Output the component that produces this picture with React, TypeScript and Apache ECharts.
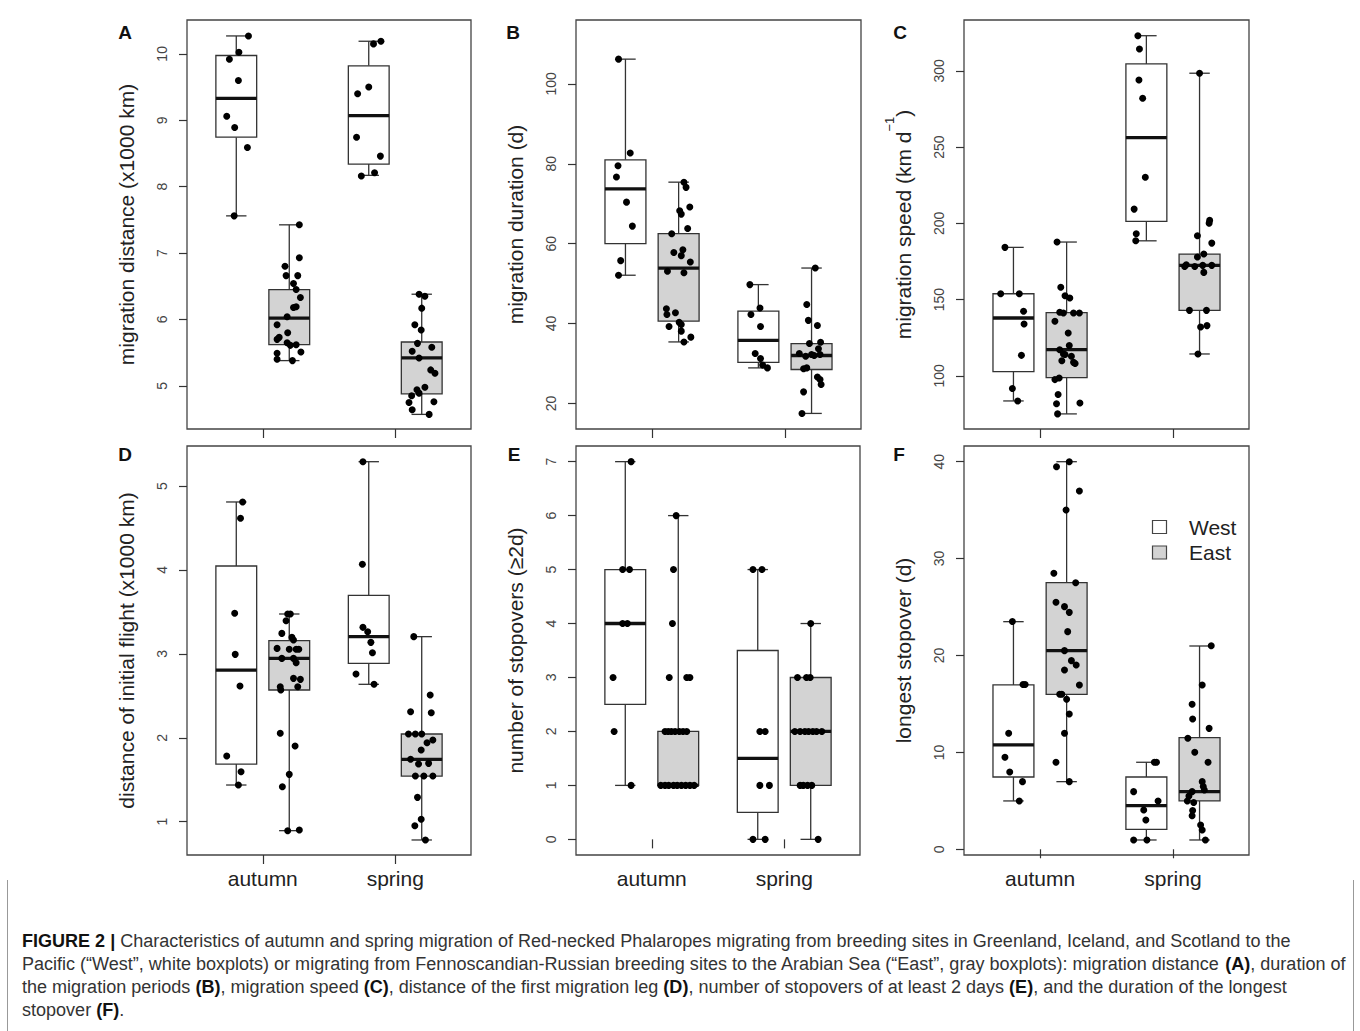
import React, { useEffect, useRef } from "react";
import * as echarts from "echarts";

const FONT = '"Liberation Sans", Arial, Helvetica, sans-serif';

// ---- x layout (categories) ----
const SEASONS = ["autumn", "spring"];
const SEASON_TICKS = [1.5, 4];
const GROUP_POS = [1, 2, 3.5, 4.5]; // West-autumn, East-autumn, West-spring, East-spring
const GROUP_ROUTE = [0, 1, 0, 1]; // 0 = West, 1 = East
const ROUTES = ["West", "East"];
const ROUTE_FILL = ["#ffffff", "#d3d3d3"];

// ---- Panel A: migration distance (x1000 km) ----
const A_TICKS = [5, 6, 7, 8, 9, 10];
const A_WA_BOX = [7.56, 8.745, 9.33, 9.975, 10.27];
const A_WA = [10.27, 10.025, 9.92, 9.6, 9.06, 8.89, 8.59, 7.56];
const A_WA_X = [0.23, 0.05, -0.13, 0.04, -0.18, -0.03, 0.21, -0.04];
const A_EA_BOX = [5.38, 5.62, 6.02, 6.45, 7.425];
const A_EA = [7.425, 6.93, 6.8, 6.66, 6.66, 6.54, 6.45, 6.33, 6.19, 6.18, 6.04, 5.92, 5.8, 5.73, 5.7, 5.65, 5.61, 5.62, 5.51, 5.49, 5.4, 5.38];
const A_EA_X = [0.19, 0.19, -0.08, -0.06, 0.16, 0.08, 0.13, 0.21, 0.13, 0.08, -0.04, -0.23, -0.03, -0.19, -0.23, -0.04, 0.02, 0.13, 0.22, -0.23, -0.23, 0.06];
const A_WS_BOX = [8.17, 8.34, 9.07, 9.82, 10.19];
const A_WS = [10.19, 10.15, 9.5, 9.4, 8.745, 8.46, 8.21, 8.16];
const A_WS_X = [0.23, 0.09, 0, -0.21, -0.23, 0.22, 0.11, -0.14];
const A_ES_BOX = [4.57, 4.88, 5.42, 5.66, 6.38];
const A_ES = [6.38, 6.35, 6.17, 5.92, 5.84, 5.64, 5.58, 5.52, 5.42, 5.24, 5.19, 4.98, 4.94, 4.89, 4.85, 4.76, 4.75, 4.64, 4.57];
const A_ES_X = [-0.05, 0.06, 0, -0.13, -0.01, -0.08, 0.19, -0.18, -0.05, 0.17, 0.25, 0.06, -0.09, -0.05, -0.19, 0.23, -0.24, -0.18, 0.14];

// ---- Panel B: migration duration (d) ----
const B_TICKS = [20, 40, 60, 80, 100];
const B_WA_BOX = [52.1, 60.0, 73.7, 81.0, 106.2];
const B_WA = [106.2, 82.7, 79.5, 76.7, 70.4, 64.4, 55.75, 52.1];
const B_WA_X = [-0.13, 0.09, -0.14, -0.17, 0.02, 0.13, -0.09, -0.13];
const B_EA_BOX = [35.4, 40.6, 53.9, 62.5, 75.4];
const B_EA = [75.4, 74.1, 69.2, 68.25, 67.4, 63.8, 62.5, 58.5, 57.8, 57.0, 55.4, 53.1, 52.7, 43.7, 42.7, 42.25, 40.3, 39.75, 39.25, 38.1, 36.6, 35.4];
const B_EA_X = [0.1, 0.14, 0.21, 0.02, 0.05, 0.17, -0.13, 0.08, -0.09, 0.05, 0.22, -0.21, 0.1, -0.23, -0.06, -0.22, 0.01, 0.05, -0.18, 0.05, 0.23, 0.1];
const B_WS_BOX = [28.9, 30.3, 35.8, 43.1, 49.75];
const B_WS = [49.75, 43.9, 42.25, 39.25, 32.5, 31.25, 29.6, 28.9];
const B_WS_X = [-0.16, 0.03, -0.14, 0.04, -0.06, 0.04, 0.08, 0.17];
const B_ES_BOX = [17.5, 28.5, 32.0, 35.0, 53.9];
const B_ES = [53.9, 44.75, 40.8, 39.5, 35.3, 35.0, 33.7, 32.5, 32.25, 32.25, 32.0, 31.8, 28.9, 28.7, 26.6, 26.0, 24.75, 22.9, 17.5];
const B_ES_X = [0.07, -0.09, -0.06, 0.11, 0.17, -0.04, 0.13, -0.23, 0.16, 0, 0.05, -0.11, -0.09, -0.15, 0.11, 0.16, 0.18, -0.15, -0.18];

// ---- Panel C: migration speed (km d-1) ----
const C_TICKS = [100, 150, 200, 250, 300];
const C_WA_BOX = [83.6, 102.8, 138.0, 153.9, 184.3];
const C_WA = [184.3, 153.9, 153.9, 142.4, 134.1, 113.5, 91.7, 83.6];
const C_WA_X = [-0.16, -0.24, 0.11, 0.19, 0.2, 0.15, -0.02, 0.08];
const C_EA_BOX = [75.1, 98.9, 117.2, 141.5, 187.8];
const C_EA = [187.8, 158.1, 152.6, 151.1, 141.7, 141.3, 141.3, 141.3, 135.8, 128.2, 119.9, 117.2, 114.4, 114.0, 112.9, 110.0, 108.9, 108.1, 98.7, 97.6, 87.8, 82.3, 81.7, 75.1];
const C_EA_X = [-0.18, -0.11, -0.03, 0.06, -0.13, -0.06, 0.13, 0.24, -0.22, 0.03, 0.05, -0.13, -0.06, -0.03, 0.09, -0.09, 0.13, 0.16, -0.14, -0.22, -0.16, 0.25, -0.19, -0.17];
const C_WS_BOX = [188.6, 201.3, 256.3, 304.6, 323.1];
const C_WS = [323.1, 314.4, 294.1, 282.1, 230.3, 209.4, 193.2, 188.6];
const C_WS_X = [-0.16, -0.13, -0.14, -0.07, -0.02, -0.23, -0.19, -0.2];
const C_ES_BOX = [114.4, 143.0, 172.5, 179.9, 298.5];
const C_ES = [298.5, 202.0, 200.2, 191.9, 187.1, 179.9, 178.0, 172.9, 171.8, 171.8, 172.5, 172.5, 167.9, 143.0, 143.0, 133.0, 132.1, 114.4];
const C_ES_X = [0, 0.19, 0.18, -0.04, 0.23, 0.08, -0.04, -0.25, -0.28, -0.09, 0.06, 0.23, 0.08, -0.19, 0.13, 0.14, 0.02, -0.03];

// ---- Panel D: distance of initial flight (x1000 km) ----
const D_TICKS = [1, 2, 3, 4, 5];
const D_WA_BOX = [1.437, 1.687, 2.807, 4.047, 4.81];
const D_WA = [4.81, 4.615, 3.483, 2.994, 2.617, 1.783, 1.596, 1.437];
const D_WA_X = [0.12, 0.08, -0.03, -0.02, 0.07, -0.18, 0.09, 0.04];
const D_EA_BOX = [0.893, 2.569, 2.946, 3.157, 3.475];
const D_EA = [3.475, 3.475, 3.395, 3.244, 3.197, 3.165, 3.065, 3.054, 3.054, 3.054, 2.946, 2.946, 2.894, 2.708, 2.696, 2.609, 2.609, 2.569, 2.053, 1.902, 1.564, 1.417, 0.893, 0.901];
const D_EA_X = [-0.03, 0.02, -0.06, -0.14, 0.05, 0.08, -0.23, 0, 0.13, 0.18, -0.14, 0.08, 0.13, 0.08, 0.21, -0.17, 0.16, -0.16, -0.17, 0.11, 0, -0.13, -0.03, 0.19];
const D_WS_BOX = [2.637, 2.887, 3.205, 3.697, 5.29];
const D_WS = [5.29, 4.067, 3.316, 3.264, 3.137, 3.014, 2.76, 2.637];
const D_WS_X = [-0.11, -0.12, -0.11, -0.02, 0.04, 0.07, -0.24, 0.1];
const D_ES_BOX = [0.782, 1.544, 1.743, 2.045, 3.205];
const D_ES = [3.205, 2.509, 2.311, 2.299, 2.045, 2.045, 2.045, 1.973, 1.941, 1.854, 1.743, 1.687, 1.695, 1.544, 1.544, 1.544, 1.29, 1.028, 0.952, 0.782];
const D_ES_X = [-0.15, 0.16, -0.21, 0.18, -0.25, -0.12, 0, 0.21, 0.1, -0.01, -0.21, -0.06, 0.13, -0.12, 0.04, 0.21, -0.08, -0.01, -0.13, 0.07];

// ---- Panel E: number of stopovers (>=2d) ----
const E_TICKS = [0, 1, 2, 3, 4, 5, 6, 7];
const E_WA_BOX = [1, 2.5, 4, 5, 7];
const E_WA = [7, 5, 5, 4, 4, 3, 2, 1];
const E_WA_X = [0.11, -0.05, 0.08, -0.05, 0.04, -0.23, -0.21, 0.11];
const E_EA_BOX = [1, 1, 1, 2, 6];
const E_EA = [6, 5, 4, 3, 3, 3, 2, 2, 2, 2, 2, 2, 2, 1, 1, 1, 1, 1, 1, 1, 1, 1];
const E_EA_X = [-0.04, -0.09, -0.11, -0.17, 0.16, 0.22, -0.25, -0.19, -0.13, -0.06, 0.02, 0.09, 0.16, -0.33, -0.25, -0.18, -0.09, -0.02, 0.06, 0.14, 0.22, 0.3];
const E_WS_BOX = [0, 0.5, 1.5, 3.5, 5];
const E_WS = [5, 5, 2, 2, 1, 1, 0, 0];
const E_WS_X = [-0.09, 0.08, 0.04, 0.14, 0.04, 0.22, -0.09, 0.14];
const E_ES_BOX = [0, 1, 2, 3, 4];
const E_ES = [4, 3, 3, 3, 2, 2, 2, 2, 2, 2, 2, 1, 1, 1, 1, 0];
const E_ES_X = [0, -0.25, -0.08, -0.01, -0.3, -0.2, -0.11, -0.04, 0.04, 0.11, 0.21, -0.2, -0.14, -0.06, 0.02, 0.14];

// ---- Panel F: longest stopover (d) ----
const F_TICKS = [0, 10, 20, 30, 40];
const F_WA_BOX = [4.99, 7.46, 10.77, 16.96, 23.49];
const F_WA = [23.5, 17.0, 17.0, 11.97, 9.49, 7.98, 6.98, 4.99];
const F_WA_X = [-0.02, 0.18, 0.22, -0.09, -0.16, -0.07, 0.17, 0.11];
const F_EA_BOX = [6.98, 15.99, 20.5, 27.52, 40];
const F_EA = [40, 39.48, 36.97, 35.01, 28.48, 27.51, 25.49, 25.04, 24.45, 22.46, 20.5, 19.47, 19.02, 18.5, 16.96, 16.0, 16.0, 15.48, 13.96, 11.97, 8.98, 6.98];
const F_EA_X = [0.05, -0.19, 0.24, -0.01, -0.24, 0.17, -0.2, -0.04, 0.05, 0.02, -0.04, 0.09, 0.18, -0.04, 0.24, -0.13, -0.09, 0, 0.05, -0.04, -0.2, 0.05];
const F_WS_BOX = [0.96, 2.06, 4.51, 7.46, 8.98];
const F_WS = [8.98, 8.98, 5.95, 4.99, 4.06, 3.03, 0.96, 0.96];
const F_WS_X = [0.15, 0.19, -0.24, 0.22, -0.05, -0.01, -0.24, 0.01];
const F_ES_BOX = [0.96, 4.99, 5.95, 11.52, 20.98];
const F_ES = [21, 16.96, 14.96, 13.45, 12.48, 11.45, 10.01, 8.98, 6.98, 6.47, 6.12, 5.95, 5.5, 4.99, 4.82, 4.0, 3.47, 2.51, 1.99, 0.96];
const F_ES_X = [0.22, 0.05, -0.14, -0.13, 0.18, -0.22, -0.09, 0.16, 0.05, 0.07, 0.09, -0.14, -0.2, -0.23, -0.11, -0.13, -0.14, 0.02, 0.05, 0.11];

// ---- caption ----
const CAPTION_LINES: Array<Array<[string, boolean]>> = [
  [["FIGURE 2 |", true], [" Characteristics of autumn and spring migration of Red-necked Phalaropes migrating from breeding sites in Greenland, Iceland, and Scotland to the", false]],
  [["Pacific (\u201cWest\u201d, white boxplots) or migrating from Fennoscandian-Russian breeding sites to the Arabian Sea (\u201cEast\u201d, gray boxplots): migration distance ", false], ["(A)", true], [", duration of", false]],
  [["the migration periods ", false], ["(B)", true], [", migration speed ", false], ["(C)", true], [", distance of the first migration leg ", false], ["(D)", true], [", number of stopovers of at least 2 days ", false], ["(E)", true], [", and the duration of the longest", false]],
  [["stopover ", false], ["(F)", true], [".", false]],
];

const X_MIN = 0.07;
const X_MAX = 5.43;
const BOX_W = 0.77;

const PANELS = [
  { letter: "A", title: "migration distance (x1000 km)", yMin: 4.35, yMax: 10.51, ticks: A_TICKS,
    boxes: [A_WA_BOX, A_EA_BOX, A_WS_BOX, A_ES_BOX], pts: [A_WA, A_EA, A_WS, A_ES], jit: [A_WA_X, A_EA_X, A_WS_X, A_ES_X],
    grid: { left: 187, top: 20, width: 284, height: 409 }, letterPos: [125, 32] },
  { letter: "B", title: "migration duration (d)", yMin: 13.6, yMax: 116, ticks: B_TICKS,
    boxes: [B_WA_BOX, B_EA_BOX, B_WS_BOX, B_ES_BOX], pts: [B_WA, B_EA, B_WS, B_ES], jit: [B_WA_X, B_EA_X, B_WS_X, B_ES_X],
    grid: { left: 576, top: 20, width: 285, height: 409 }, letterPos: [513, 32] },
  { letter: "C", title: "{m|migration speed (km d}{sup|\u22121}{m|)}", yMin: 65.2, yMax: 333.4, ticks: C_TICKS,
    boxes: [C_WA_BOX, C_EA_BOX, C_WS_BOX, C_ES_BOX], pts: [C_WA, C_EA, C_WS, C_ES], jit: [C_WA_X, C_EA_X, C_WS_X, C_ES_X],
    grid: { left: 964, top: 20, width: 285, height: 409 }, letterPos: [900, 32] },
  { letter: "D", title: "distance of initial flight (x1000 km)", yMin: 0.603, yMax: 5.477, ticks: D_TICKS,
    boxes: [D_WA_BOX, D_EA_BOX, D_WS_BOX, D_ES_BOX], pts: [D_WA, D_EA, D_WS, D_ES], jit: [D_WA_X, D_EA_X, D_WS_X, D_ES_X],
    grid: { left: 187, top: 446, width: 284, height: 409 }, letterPos: [125, 454] },
  { letter: "E", title: "number of stopovers (\u22652d)", yMin: -0.29, yMax: 7.29, ticks: E_TICKS,
    boxes: [E_WA_BOX, E_EA_BOX, E_WS_BOX, E_ES_BOX], pts: [E_WA, E_EA, E_WS, E_ES], jit: [E_WA_X, E_EA_X, E_WS_X, E_ES_X],
    grid: { left: 576, top: 446, width: 284, height: 409 }, letterPos: [514, 454] },
  { letter: "F", title: "longest stopover (d)", yMin: -0.59, yMax: 41.62, ticks: F_TICKS,
    boxes: [F_WA_BOX, F_EA_BOX, F_WS_BOX, F_ES_BOX], pts: [F_WA, F_EA, F_WS, F_ES], jit: [F_WA_X, F_EA_X, F_WS_X, F_ES_X],
    grid: { left: 964, top: 446, width: 285, height: 409 }, letterPos: [899, 454] },
];

function renderBox(params: any, api: any) {
  const x = api.value(0);
  const lo = api.value(1);
  const q1 = api.value(2);
  const med = api.value(3);
  const q3 = api.value(4);
  const hi = api.value(5);
  const route = api.value(6);
  const w = api.size([BOX_W, 0])[0];
  const [cx, yLo] = api.coord([x, lo]);
  const yQ1 = api.coord([x, q1])[1];
  const yMed = api.coord([x, med])[1];
  const yQ3 = api.coord([x, q3])[1];
  const yHi = api.coord([x, hi])[1];
  const half = w / 2;
  const st = w / 4;
  const ls = { stroke: "#333", lineWidth: 1.3 };
  return {
    type: "group",
    children: [
      { type: "line", shape: { x1: cx, y1: yLo, x2: cx, y2: yQ1 }, style: ls },
      { type: "line", shape: { x1: cx, y1: yQ3, x2: cx, y2: yHi }, style: ls },
      { type: "line", shape: { x1: cx - st, y1: yLo, x2: cx + st, y2: yLo }, style: ls },
      { type: "line", shape: { x1: cx - st, y1: yHi, x2: cx + st, y2: yHi }, style: ls },
      { type: "rect", shape: { x: cx - half, y: yQ3, width: w, height: yQ1 - yQ3 }, style: { fill: ROUTE_FILL[route], stroke: "#333", lineWidth: 1.3 } },
      { type: "line", shape: { x1: cx - half, y1: yMed, x2: cx + half, y2: yMed }, style: { stroke: "#111", lineWidth: 3.3 } },
    ],
  };
}

function measureSegs(segs: Array<[string, boolean]>, size: number): number {
  const ctx = document.createElement("canvas").getContext("2d");
  if (!ctx) return 0;
  let w = 0;
  for (const [t, b] of segs) {
    ctx.font = `${b ? "bold " : ""}${size}px ${FONT}`;
    w += ctx.measureText(t).width;
  }
  return w;
}

function buildOption() {
  const grid = PANELS.map((p) => ({
    ...p.grid,
    show: true,
    borderColor: "#444",
    borderWidth: 1.3,
    backgroundColor: "transparent",
    containLabel: false,
    outerBoundsMode: "none",
  }));

  const xAxis = PANELS.map((p, i) => ({
    type: "value",
    gridIndex: i,
    min: X_MIN,
    max: X_MAX,
    axisLine: { show: false },
    splitLine: { show: false },
    axisTick: { show: true, customValues: SEASON_TICKS, length: 9, lineStyle: { color: "#333", width: 1.2 } },
    axisLabel: {
      show: i >= 3,
      customValues: SEASON_TICKS,
      formatter: (v: number) => {
        const k = SEASON_TICKS.indexOf(v);
        return k >= 0 ? SEASONS[k] : "";
      },
      fontSize: 21,
      color: "#222",
      margin: 13,
      fontFamily: FONT,
    },
  }));

  const yAxis = PANELS.map((p, i) => ({
    type: "value",
    gridIndex: i,
    min: p.yMin,
    max: p.yMax,
    axisLine: { show: false },
    splitLine: { show: false },
    axisTick: { show: true, customValues: p.ticks, length: 8, lineStyle: { color: "#333", width: 1.2 } },
    axisLabel: { customValues: p.ticks, rotate: 90, fontSize: 14, color: "#444", margin: 18, fontFamily: FONT },
    name: p.title,
    nameLocation: "middle",
    nameRotate: 90,
    nameGap: 50,
    nameMoveOverlap: false,
    nameTextStyle: {
      fontSize: 21,
      color: "#222",
      fontFamily: FONT,
      rich: {
        m: { fontSize: 21, color: "#222", fontFamily: FONT, verticalAlign: "bottom" },
        sup: { fontSize: 13, color: "#222", fontFamily: FONT, verticalAlign: "top", padding: [0, 0, 18, 0] },
      },
    },
  }));

  const series: any[] = [];
  PANELS.forEach((p, i) => {
    series.push({
      type: "custom",
      name: p.letter + " boxes",
      xAxisIndex: i,
      yAxisIndex: i,
      renderItem: renderBox,
      data: p.boxes.map((b, g) => [GROUP_POS[g], ...b, GROUP_ROUTE[g]]),
      encode: { x: 0, y: [1, 2, 3, 4, 5] },
      silent: true,
      clip: false,
      z: 2,
    });
    const pts: number[][] = [];
    p.pts.forEach((vals, g) => {
      vals.forEach((v, k) => pts.push([GROUP_POS[g] + p.jit[g][k], v]));
    });
    series.push({
      type: "scatter",
      name: p.letter + " points",
      xAxisIndex: i,
      yAxisIndex: i,
      data: pts,
      symbol: "circle",
      symbolSize: 7,
      itemStyle: { color: "#000", opacity: 1 },
      silent: true,
      z: 3,
    });
  });

  const graphic: any[] = [];
  PANELS.forEach((p) => {
    graphic.push({
      type: "text",
      x: p.letterPos[0],
      y: p.letterPos[1],
      style: { text: p.letter, fontSize: 19, fontWeight: "bold", fontFamily: FONT, fill: "#111", align: "center", verticalAlign: "middle" },
    });
  });

  // legend (panel F)
  const legendY = [527, 552.5];
  ROUTES.forEach((r, k) => {
    graphic.push({
      type: "rect",
      shape: { x: 1152.5, y: legendY[k] - 6.5, width: 14, height: 13 },
      style: { fill: ROUTE_FILL[k], stroke: "#444", lineWidth: 1.2 },
    });
    graphic.push({
      type: "text",
      x: 1189,
      y: legendY[k],
      style: { text: r, fontSize: 21, fontFamily: FONT, fill: "#222", align: "left", verticalAlign: "middle" },
    });
  });

  // caption
  const capSize = 19;
  const w1 = measureSegs(CAPTION_LINES[0], capSize);
  const w2 = measureSegs(CAPTION_LINES[1], capSize);
  const scale = w1 > 0 && w2 > 0 ? (1269 + 1324) / (w1 + w2) : 0.9;
  const capY = [940, 963, 986, 1009];
  CAPTION_LINES.forEach((segs, k) => {
    const text = segs.map(([t, b]) => `{${b ? "b" : "n"}|${t}}`).join("");
    graphic.push({
      type: "text",
      x: 22,
      y: capY[k],
      scaleX: scale,
      style: {
        text,
        fontSize: capSize,
        fontFamily: FONT,
        fill: "#222",
        align: "left",
        verticalAlign: "middle",
        rich: {
          n: { fontSize: capSize, fontFamily: FONT, fill: "#333", color: "#333" },
          b: { fontSize: capSize, fontFamily: FONT, fontWeight: "bold", fill: "#111", color: "#111" },
        },
      },
    });
  });

  // frame lines around caption area
  graphic.push({ type: "line", shape: { x1: 7.5, y1: 880, x2: 7.5, y2: 1031 }, style: { stroke: "#999", lineWidth: 1 } });
  graphic.push({ type: "line", shape: { x1: 1353.5, y1: 880, x2: 1353.5, y2: 1031 }, style: { stroke: "#999", lineWidth: 1 } });

  return {
    animation: false,
    backgroundColor: "#ffffff",
    textStyle: { fontFamily: FONT },
    grid,
    xAxis,
    yAxis,
    series,
    graphic,
  };
}

export default function App() {
  const ref = useRef<HTMLDivElement>(null);
  useEffect(() => {
    if (!ref.current) return;
    const chart = echarts.init(ref.current, null, { renderer: "svg" });
    chart.setOption(buildOption() as any);
    return () => chart.dispose();
  }, []);
  return (
    <div
      ref={ref}
      style={{ position: "absolute", left: 0, top: 0, width: 1360, height: 1031, background: "#fff" }}
    />
  );
}
